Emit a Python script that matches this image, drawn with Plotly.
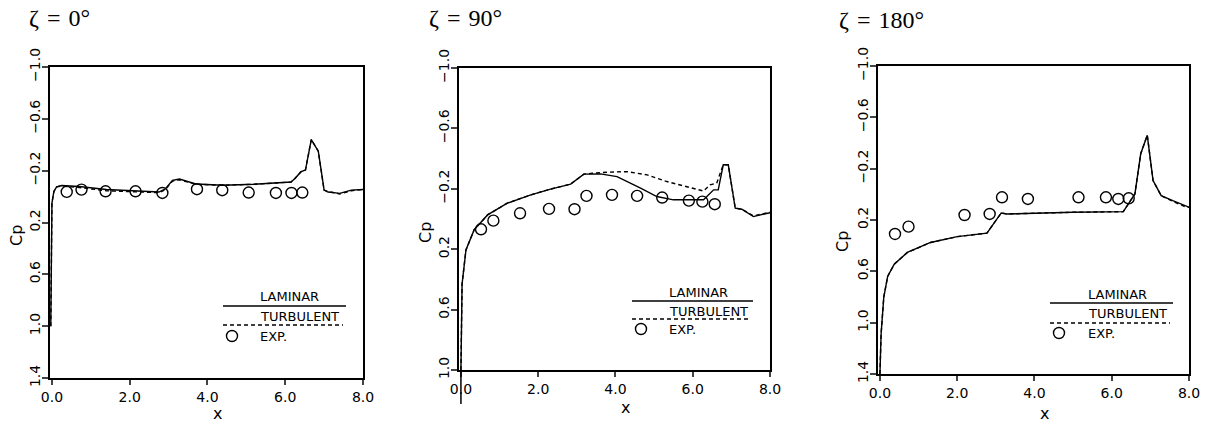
import plotly.graph_objects as go

W, H = 1212, 425

# ---------------- data ----------------
# zeta = 0 deg
lam0_x = [-0.03, -0.02, 0.0, 0.05, 0.12, 0.25, 0.7, 1.4, 2.2, 2.75, 2.92, 3.1, 3.28, 3.7, 4.4, 5.2, 6.15, 6.25, 6.4, 6.52, 6.67, 6.85, 7.0, 7.1, 7.4, 7.7, 8.0]
lam0_y = [1.0, 0.3, 0.05, -0.04, -0.075, -0.085, -0.078, -0.055, -0.045, -0.035, -0.06, -0.125, -0.135, -0.097, -0.088, -0.095, -0.112, -0.14, -0.19, -0.205, -0.44, -0.35, -0.05, -0.035, -0.025, -0.05, -0.055]
tur0_x = [-0.03, -0.02, 0.0, 0.05, 0.12, 0.25, 0.7, 1.4, 2.2, 2.75, 2.92, 3.1, 3.28, 3.7, 4.4, 5.2, 6.15, 6.25, 6.4, 6.52, 6.67, 6.85, 7.0, 7.1, 7.4, 7.7, 8.0]
tur0_y = [1.0, 0.3, 0.05, -0.04, -0.075, -0.082, -0.07, -0.045, -0.035, -0.03, -0.055, -0.12, -0.13, -0.095, -0.088, -0.095, -0.112, -0.14, -0.19, -0.205, -0.44, -0.35, -0.05, -0.04, -0.02, -0.045, -0.055]
exp0_x = [0.38, 0.76, 1.38, 2.15, 2.84, 3.73, 4.38, 5.06, 5.76, 6.16, 6.44]
exp0_y = [-0.036, -0.054, -0.041, -0.041, -0.028, -0.057, -0.049, -0.031, -0.028, -0.028, -0.031]

# zeta = 90 deg
lam90_x = [0.0, 0.01, 0.03, 0.13, 0.34, 0.69, 1.2, 1.81, 2.32, 2.84, 3.18, 3.61, 4.04, 4.65, 5.07, 5.5, 6.28, 6.54, 6.66, 6.79, 6.92, 7.1, 7.27, 7.57, 7.74, 8.0]
lam90_y = [1.0, 0.7, 0.43, 0.205, 0.072, -0.027, -0.105, -0.16, -0.198, -0.231, -0.297, -0.299, -0.281, -0.204, -0.149, -0.127, -0.127, -0.193, -0.193, -0.359, -0.359, -0.072, -0.065, -0.016, -0.027, -0.042]
tur90_x = [0.0, 0.01, 0.03, 0.13, 0.34, 0.69, 1.2, 1.81, 2.32, 2.84, 3.18, 3.4, 3.78, 4.3, 4.82, 5.33, 5.85, 6.28, 6.45, 6.62, 6.79, 6.92, 7.1, 7.27, 7.57, 7.74, 8.0]
tur90_y = [1.0, 0.7, 0.43, 0.205, 0.072, -0.027, -0.105, -0.16, -0.198, -0.231, -0.297, -0.303, -0.31, -0.314, -0.292, -0.248, -0.215, -0.185, -0.226, -0.237, -0.359, -0.359, -0.072, -0.065, -0.02, -0.03, -0.045]
exp90_x = [0.52, 0.84, 1.53, 2.28, 2.94, 3.25, 3.91, 4.56, 5.21, 5.9, 6.25, 6.57]
exp90_y = [0.068, 0.011, -0.038, -0.067, -0.065, -0.153, -0.16, -0.153, -0.142, -0.122, -0.115, -0.098]

# zeta = 180 deg
lam180_x = [0.0, 0.03, 0.1, 0.2, 0.37, 0.71, 1.31, 2.0, 2.77, 3.14, 3.28, 4.14, 5.0, 6.3, 6.6, 6.75, 6.92, 7.07, 7.28, 7.58, 7.93, 8.0]
lam180_y = [1.4, 1.09, 0.80, 0.64, 0.544, 0.453, 0.375, 0.33, 0.302, 0.145, 0.153, 0.145, 0.14, 0.135, -0.003, -0.316, -0.46, -0.107, 0.01, 0.049, 0.096, 0.1]
tur180_x = [0.0, 0.03, 0.1, 0.2, 0.37, 0.71, 1.31, 2.0, 2.77, 3.14, 3.28, 4.14, 5.0, 6.3, 6.6, 6.75, 6.92, 7.07, 7.28, 7.58, 7.93, 8.0]
tur180_y = [1.4, 1.09, 0.80, 0.64, 0.544, 0.453, 0.375, 0.33, 0.302, 0.145, 0.153, 0.145, 0.14, 0.135, -0.003, -0.316, -0.46, -0.107, 0.01, 0.055, 0.1, 0.102]
exp180_x = [0.39, 0.74, 2.19, 2.84, 3.16, 3.83, 5.14, 5.85, 6.17, 6.44]
exp180_y = [0.309, 0.252, 0.161, 0.153, 0.023, 0.036, 0.023, 0.023, 0.036, 0.031]

titles = ["ζ\u2004=\u20040°", "ζ\u2004=\u200490°", "ζ\u2004=\u2004180°"]
x_ticks = [0, 2, 4, 6, 8]
y_ticks = [-1.0, -0.6, -0.2, 0.2, 0.6, 1.0, 1.4]
legend_labels = ["LAMINAR", "TURBULENT", "EXP."]

series = [
    (lam0_x, lam0_y, tur0_x, tur0_y, exp0_x, exp0_y),
    (lam90_x, lam90_y, tur90_x, tur90_y, exp90_x, exp90_y),
    (lam180_x, lam180_y, tur180_x, tur180_y, exp180_x, exp180_y),
]

# ---------------- layout geometry (pixels) ----------------
boxes = [  # left, right, top, bottom
    (50, 363, 67, 378),
    (459, 770, 68, 370),
    (878, 1189, 66, 374),
]
y_ranges = [[1.4, -1.0], [1.0, -1.0], [1.4, -1.0]]
title_pos = [(27, 18), (427, 18), (837, 20)]
cp_pos = [(16, 236), (425, 233), (843, 241)]
xlab_pos = [(217, 413), (625, 407), (1044, 413)]
leg = [
    dict(x0=223, x1=346, x1d=343, ylam=306, ytur=325, tx=258, cx=232, ty=(296, 316, 336)),
    dict(x0=632, x1=753, x1d=751, ylam=301, ytur=319, tx=667, cx=641, ty=(292, 311, 329)),
    dict(x0=1050, x1=1173, x1d=1170, ylam=303, ytur=323, tx=1086, cx=1059, ty=(294, 313, 333)),
]


def px(x):
    return x / W


def py(y):
    return 1 - y / H


fig = go.Figure()
FONT = "DejaVu Sans"
annotations = []
shapes = []

for i, (lx, ly, tx_, ty_, ex, ey) in enumerate(series):
    xa = "x" if i == 0 else f"x{i+1}"
    ya = "y" if i == 0 else f"y{i+1}"
    fig.add_trace(go.Scatter(x=lx, y=ly, mode="lines", line=dict(color="black", width=1.4),
                             xaxis=xa, yaxis=ya, showlegend=False))
    fig.add_trace(go.Scatter(x=tx_, y=ty_, mode="lines", line=dict(color="black", width=1.4, dash="4px,3px"),
                             xaxis=xa, yaxis=ya, showlegend=False))
    fig.add_trace(go.Scatter(x=ex, y=ey, mode="markers",
                             marker=dict(symbol="circle-open", size=11, color="black", line=dict(width=1.4)),
                             xaxis=xa, yaxis=ya, showlegend=False, cliponaxis=False))

    l, r, t, b = boxes[i]
    axkey = "" if i == 0 else str(i + 1)
    fig.layout["xaxis" + axkey] = dict(
        domain=[px(l), px(r)], range=[-0.05, 8.0], anchor=ya, automargin=False,
        tickvals=x_ticks, tickformat=".1f", ticks="outside", ticklen=5, tickwidth=1.5,
        showline=True, linecolor="black", linewidth=2, mirror=True,
        showgrid=False, zeroline=False, tickfont=dict(family=FONT, size=14, color="black"),
    )
    fig.layout["yaxis" + axkey] = dict(
        domain=[py(b), py(t)], range=y_ranges[i], anchor=xa, automargin=False,
        tickvals=y_ticks, tickformat=".1f", ticks="outside", ticklen=6, tickwidth=1.5,
        tickangle=-90, ticklabelstandoff=-4,
        showline=True, linecolor="black", linewidth=2, mirror=True,
        showgrid=False, zeroline=False, tickfont=dict(family=FONT, size=14, color="black"),
    )

    annotations.append(dict(text=titles[i], x=px(title_pos[i][0]), y=py(title_pos[i][1]),
                            xref="paper", yref="paper", xanchor="left", yanchor="middle", showarrow=False,
                            font=dict(family="Liberation Serif", size=24, color="black")))
    annotations.append(dict(text="Cp", x=px(cp_pos[i][0]), y=py(cp_pos[i][1]), textangle=-90,
                            xref="paper", yref="paper", xanchor="center", yanchor="middle", showarrow=False,
                            font=dict(family=FONT, size=16, color="black")))
    annotations.append(dict(text="x", x=px(xlab_pos[i][0]), y=py(xlab_pos[i][1]),
                            xref="paper", yref="paper", xanchor="center", yanchor="middle", showarrow=False,
                            font=dict(family=FONT, size=16, color="black")))

    g = leg[i]
    for lab, yy in zip(legend_labels, g["ty"]):
        annotations.append(dict(text=lab, x=px(g["tx"]), y=py(yy), xref="paper", yref="paper",
                                xanchor="left", yanchor="middle", showarrow=False,
                                font=dict(family=FONT, size=13, color="black")))
    shapes.append(dict(type="line", xref="paper", yref="paper", x0=px(g["x0"]), x1=px(g["x1"]),
                       y0=py(g["ylam"]), y1=py(g["ylam"]), line=dict(color="black", width=1.4)))
    shapes.append(dict(type="line", xref="paper", yref="paper", x0=px(g["x0"]), x1=px(g["x1d"]),
                       y0=py(g["ytur"]), y1=py(g["ytur"]), line=dict(color="black", width=1.4, dash="4px,3px")))
    cy = g["ty"][2]
    shapes.append(dict(type="circle", xref="paper", yref="paper",
                       x0=px(g["cx"] - 5.5), x1=px(g["cx"] + 5.5), y0=py(cy + 5.5), y1=py(cy - 5.5),
                       line=dict(color="black", width=1.4)))

shapes.append(dict(type="line", xref="x2", yref="paper", x0=0, x1=0, y0=py(404), y1=py(370),
                   line=dict(color="black", width=1.5)))

fig.update_layout(
    width=W, height=H, autosize=False,
    margin=dict(l=0, r=0, t=0, b=0, pad=0, autoexpand=False),
    paper_bgcolor="white", plot_bgcolor="white",
    annotations=annotations, shapes=shapes, showlegend=False,
)

fig.write_html("out.html")
